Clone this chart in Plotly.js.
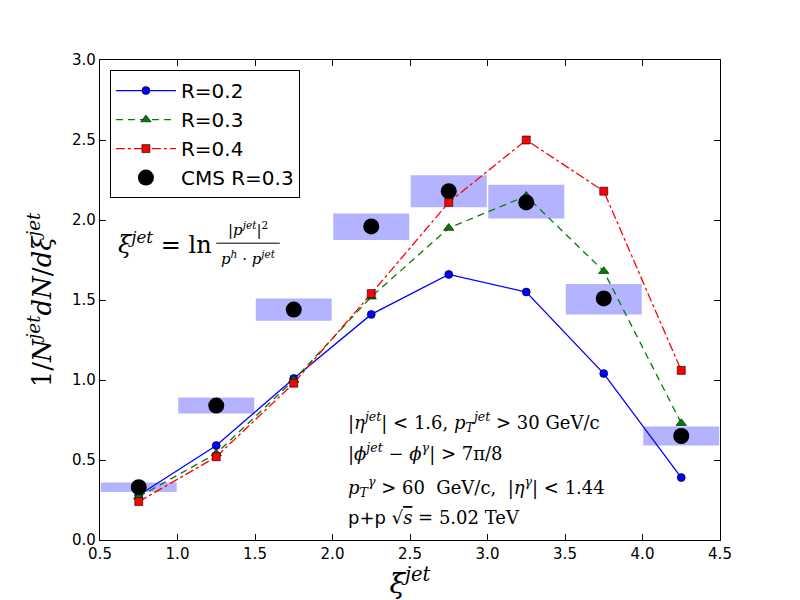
<!DOCTYPE html>
<html>
<head>
<meta charset="utf-8">
<script src="https://cdn.plot.ly/plotly-3.0.1.min.js"></script>
<style>body{margin:0;background:#fff}#plot{width:800px;height:600px}</style>
</head>
<body>
<div id="plot"></div>
<script>
var xi = [0.75, 1.25, 1.75, 2.25, 2.75, 3.25, 3.75, 4.25];
var r02 = [0.28, 0.59, 1.01, 1.41, 1.66, 1.55, 1.04, 0.39];
var r03 = [0.27, 0.54, 1.00, 1.52, 1.95, 2.15, 1.68, 0.73];
var r04 = [0.24, 0.52, 0.98, 1.54, 2.11, 2.50, 2.18, 1.06];
var cms = [0.33, 0.84, 1.44, 1.96, 2.18, 2.11, 1.51, 0.65];
var cmsLow = [0.30, 0.79, 1.37, 1.875, 2.08, 2.01, 1.41, 0.59];
var cmsHigh = [0.36, 0.89, 1.51, 2.04, 2.28, 2.22, 1.60, 0.71];
var binWidth = 0.49;

var boxHeight = [];
cmsHigh.forEach((h, i) => {
	boxHeight.push(h - cmsLow[i]);
});

var data = [
	{
		type: 'bar',
		x: xi,
		y: boxHeight,
		base: cmsLow,
		width: binWidth,
		marker: {color: '#b3b3ff', line: {width: 0}},
		showlegend: false,
		hoverinfo: 'skip'
	},
	{
		type: 'scatter',
		mode: 'lines+markers',
		name: 'R=0.2',
		x: xi,
		y: r02,
		line: {color: '#0000ff', width: 1.3},
		marker: {symbol: 'circle', size: 8, color: '#0000ff', line: {color: '#000', width: 0.6}}
	},
	{
		type: 'scatter',
		mode: 'lines+markers',
		name: 'R=0.3',
		x: xi,
		y: r03,
		line: {color: '#007f00', width: 1.3, dash: '7px,5px'},
		marker: {symbol: 'triangle-up', size: 9, color: '#007f00', line: {color: '#000', width: 0.6}}
	},
	{
		type: 'scatter',
		mode: 'lines+markers',
		name: 'R=0.4',
		x: xi,
		y: r04,
		line: {color: '#ff0000', width: 1.3, dash: 'dashdot'},
		marker: {symbol: 'square', size: 8, color: '#ff0000', line: {color: '#000', width: 0.6}}
	},
	{
		type: 'scatter',
		mode: 'markers',
		name: 'CMS R=0.3',
		x: xi,
		y: cms,
		marker: {symbol: 'circle', size: 16, color: '#000'}
	}
];

var txtFont = {family: 'DejaVu Serif', size: 18, color: 'black'};
var layout = {
	width: 800,
	height: 600,
	paper_bgcolor: 'white',
	plot_bgcolor: 'white',
	margin: {l: 100, r: 80, t: 60, b: 60},
	showlegend: true,
	barmode: 'overlay',
	font: {family: 'DejaVu Sans', size: 15, color: 'black'},
	legend: {
		x: 0.016, y: 0.979, xanchor: 'left', yanchor: 'top',
		bgcolor: 'white', bordercolor: 'black', borderwidth: 1,
		font: {family: 'DejaVu Sans', size: 20, color: 'black'},
		tracegroupgap: 2, itemwidth: 60
	},
	xaxis: {
		range: [0.5, 4.5],
		tickvals: [0.5, 1.0, 1.5, 2.0, 2.5, 3.0, 3.5, 4.0, 4.5],
		tickformat: '.1f',
		ticks: 'inside', ticklen: 6, tickcolor: 'black',
		showline: true, linecolor: 'black', linewidth: 1.3, mirror: 'ticks',
		showgrid: false, zeroline: false,
		title: {text: '<i>ξ</i><sup><i>jet</i></sup>', font: {family: 'DejaVu Serif', size: 28, color: 'black'}, standoff: 4}
	},
	yaxis: {
		range: [0, 3.0],
		tickvals: [0, 0.5, 1.0, 1.5, 2.0, 2.5, 3.0],
		tickformat: '.1f',
		ticks: 'inside', ticklen: 6, tickcolor: 'black',
		showline: true, linecolor: 'black', linewidth: 1.3, mirror: 'ticks',
		showgrid: false, zeroline: false,
		title: {text: '1/<i>N</i><sup><i>jet</i></sup><i>dN</i>/<i>dξ</i><sup><i>jet</i></sup>', font: {family: 'DejaVu Serif', size: 26, color: 'black'}, standoff: 12}
	},
	shapes: [
		{type: 'line', xref: 'x', yref: 'y', x0: 1.25, x1: 1.66, y0: 1.855, y1: 1.855, line: {color: 'black', width: 1}}
	],
	annotations: [
		{xref: 'x', yref: 'y', x: 0.6, y: 1.855, xanchor: 'left', yanchor: 'middle', showarrow: false,
			text: '<i>ξ</i><sup><i>jet</i></sup> = ln', font: {family: 'DejaVu Serif', size: 24, color: 'black'}},
		{xref: 'x', yref: 'y', x: 1.455, y: 1.87, xanchor: 'center', yanchor: 'bottom', showarrow: false,
			text: '|<i>p</i><sup><i>jet</i></sup>|<sup>2</sup>', font: {family: 'DejaVu Serif', size: 15, color: 'black'}},
		{xref: 'x', yref: 'y', x: 1.455, y: 1.84, xanchor: 'center', yanchor: 'top', showarrow: false,
			text: '<i>p</i><sup><i>h</i></sup> · <i>p</i><sup><i>jet</i></sup>', font: {family: 'DejaVu Serif', size: 15, color: 'black'}},
		{xref: 'x', yref: 'y', x: 2.09, y: 0.74, xanchor: 'left', yanchor: 'middle', showarrow: false,
			text: '|<i>η</i><sup><i>jet</i></sup>| < 1.6, <i>p</i><sub><i>T</i></sub><sup><i>jet</i></sup> > 30 GeV/c', font: txtFont},
		{xref: 'x', yref: 'y', x: 2.09, y: 0.55, xanchor: 'left', yanchor: 'middle', showarrow: false,
			text: '|<i>ϕ</i><sup><i>jet</i></sup> − <i>ϕ</i><sup><i>γ</i></sup>| > 7π/8', font: txtFont},
		{xref: 'x', yref: 'y', x: 2.09, y: 0.33, xanchor: 'left', yanchor: 'middle', showarrow: false,
			text: '<i>p</i><sub><i>T</i></sub><sup><i>γ</i></sup> > 60  GeV/c,  |<i>η</i><sup><i>γ</i></sup>| < 1.44', font: txtFont},
		{xref: 'x', yref: 'y', x: 2.09, y: 0.14, xanchor: 'left', yanchor: 'middle', showarrow: false,
			text: '<span style="font-family:DejaVu Sans">p+p</span> √<span style="text-decoration:overline"><i>s</i></span> = 5.02 TeV', font: txtFont}
	]
};

Plotly.newPlot('plot', data, layout, {displayModeBar: false});
</script>
</body>
</html>
